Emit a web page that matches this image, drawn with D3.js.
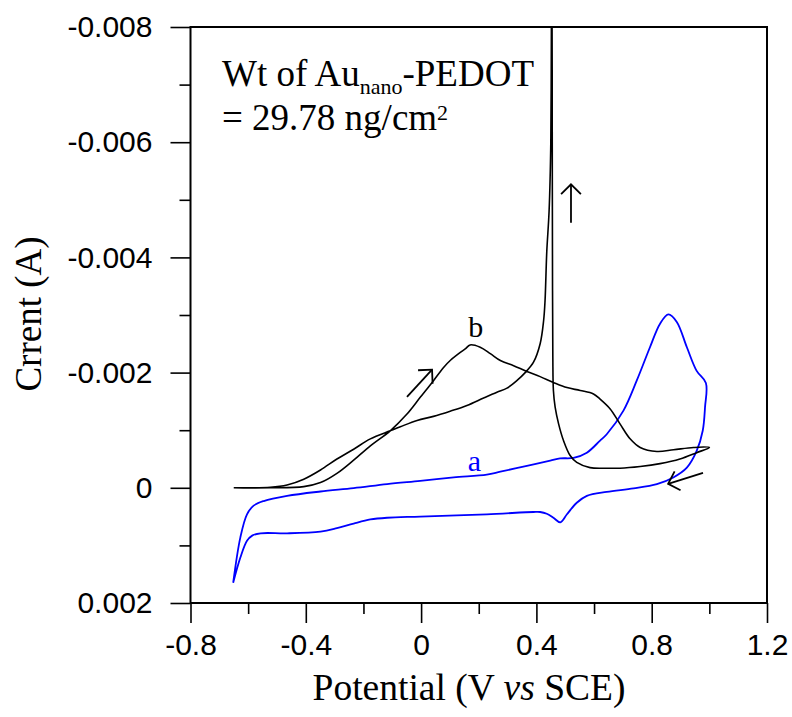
<!DOCTYPE html>
<html>
<head>
<meta charset="utf-8">
<script src="https://cdn.jsdelivr.net/npm/d3@7"></script>
<style>
  body { margin: 0; background: #fff; }
  svg { display: block; }
</style>
</head>
<body>
<div id="chart"></div>
<script>
// Curve b (black): forward scan, return scan, nucleation spike and back
const curveB_V = [-0.650, -0.523, -0.407, -0.349, -0.292, -0.234, -0.176, -0.107, -0.049, -0.003,
  0.043, 0.078, 0.101, 0.136, 0.153, 0.170, 0.205, 0.240, 0.275, 0.321, 0.367, 0.413, 0.459,
  0.506, 0.552, 0.598, 0.621, 0.656, 0.690, 0.725, 0.760, 0.818, 0.876, 0.945, 1.000,
  0.956, 0.898, 0.829, 0.760, 0.690, 0.644, 0.586, 0.540, 0.517, 0.494, 0.477, 0.465, 0.459,
  0.457, 0.456, 0.455, 0.454,
  0.452, 0.450, 0.444, 0.436, 0.430, 0.425, 0.413, 0.390, 0.361, 0.332, 0.298, 0.263, 0.217,
  0.159, 0.101, 0.043, -0.014, -0.072, -0.107, -0.176, -0.234, -0.292, -0.349, -0.407, -0.465,
  -0.523, -0.650];
const curveB_I = [0, 0, -0.00002, -0.00009, -0.00025, -0.00048, -0.00073, -0.00099, -0.00128, -0.00157,
  -0.00186, -0.00209, -0.00221, -0.00235, -0.00241, -0.00248, -0.00244, -0.00233, -0.00221, -0.00212, -0.00202, -0.00193, -0.00183,
  -0.00174, -0.00169, -0.00163, -0.00154, -0.00137, -0.00111, -0.00085, -0.00070, -0.00063, -0.00066, -0.00070, -0.00070,
  -0.00061, -0.00050, -0.00042, -0.00037, -0.00034, -0.00034, -0.00035, -0.00044, -0.00056, -0.00082, -0.00111, -0.00140, -0.00169,
  -0.00227, -0.00343, -0.00600, -0.00870,
  -0.00800, -0.00600, -0.00480, -0.00410, -0.00325, -0.00290, -0.00250, -0.00218, -0.00200, -0.00186, -0.00173, -0.00166, -0.00156,
  -0.00143, -0.00133, -0.00124, -0.00117, -0.00106, -0.00099, -0.00085, -0.00067, -0.00050, -0.00031, -0.00015, -0.00005,
  -0.00001, 0];

// Curve a (blue)
const curveA_V = [-0.652, -0.627, -0.604, -0.581, -0.546, -0.465, -0.349, -0.234, -0.118, -0.003,
  0.113, 0.228, 0.275, 0.367, 0.448, 0.482, 0.529, 0.575, 0.621, 0.644, 0.702, 0.748, 0.794,
  0.829, 0.858, 0.887, 0.922, 0.956, 0.988,
  0.985, 0.977, 0.956, 0.922, 0.875, 0.818, 0.737, 0.644, 0.575, 0.540, 0.506, 0.483, 0.459,
  0.436, 0.413, 0.390, 0.228, -0.003, -0.118, -0.176, -0.234, -0.292, -0.349, -0.465, -0.557,
  -0.586, -0.604, -0.627, -0.652];
const curveA_I = [0.00165, 0.00086, 0.00046, 0.00031, 0.00023, 0.00014, 0.000064, 0.000006, -0.000064, -0.00012,
  -0.00018, -0.00023, -0.00028, -0.00038, -0.00047, -0.00051, -0.00052, -0.00061, -0.00082, -0.00093, -0.00134, -0.00186, -0.00244,
  -0.00285, -0.00301, -0.00288, -0.00244, -0.00203, -0.00182,
  -0.00140, -0.00099, -0.00064, -0.00035, -0.00018, -0.000064, 0.00001, 0.00007, 0.00014, 0.00026, 0.00046, 0.00060, 0.00052,
  0.00045, 0.00042, 0.00042, 0.00046, 0.00050, 0.00052, 0.00055, 0.00062, 0.00070, 0.00076, 0.00079, 0.00079,
  0.00083, 0.00092, 0.00121, 0.00165];

const xTicks = [-0.8, -0.4, 0, 0.4, 0.8, 1.2];
const xMinor = [-0.6, -0.2, 0.2, 0.6, 1.0];
const yTicks = [-0.008, -0.006, -0.004, -0.002, 0, 0.002];
const yMinor = [-0.007, -0.005, -0.003, -0.001, 0.001];

// annotation arrows [from, to] in data units
const arrows = [
  [[-0.049, -0.00158], [0.038, -0.00205]],
  [[0.520, -0.00460], [0.520, -0.00527]],
  [[0.978, -0.00026], [0.857, -0.00007]]
];

const W = 792, H = 717;
const margin = { top: 27, right: 25, bottom: 114, left: 190.5 };
const width = W - margin.left - margin.right;
const height = H - margin.top - margin.bottom;

const svg = d3.select('#chart')
  .append('svg')
  .attr('width', W)
  .attr('height', H);

const g = svg.append('g')
  .attr('transform', `translate(${margin.left},${margin.top})`);

const x = d3.scaleLinear().domain([-0.8, 1.2]).range([0, width]);
const y = d3.scaleLinear().domain([-0.008, 0.002]).range([0, height]);

const fmt = d => String(d);

// axes
const xAxis = g.append('g')
  .attr('transform', `translate(0,${height})`)
  .call(d3.axisBottom(x).tickValues(xTicks).tickFormat(fmt).tickSize(20).tickPadding(6));
g.append('g')
  .attr('transform', `translate(0,${height})`)
  .call(d3.axisBottom(x).tickValues(xMinor).tickFormat('').tickSize(11));

const yAxis = g.append('g')
  .call(d3.axisLeft(y).tickValues(yTicks).tickFormat(fmt).tickSize(20).tickPadding(18));
g.append('g')
  .call(d3.axisLeft(y).tickValues(yMinor).tickFormat('').tickSize(11));

g.selectAll('.domain').remove();
g.selectAll('.tick line').attr('stroke', '#000').attr('stroke-width', 1.6);
g.selectAll('.tick text')
  .attr('fill', '#000')
  .style('font-family', '"Liberation Sans", Arial, sans-serif')
  .style('font-size', '30px');
xAxis.selectAll('.tick text').attr('dy', '0.88em');

// frame
g.append('rect')
  .attr('width', width)
  .attr('height', height)
  .attr('fill', 'none')
  .attr('stroke', '#000')
  .attr('stroke-width', 2);

// curves
g.append('clipPath').attr('id', 'clip')
  .append('rect').attr('width', width).attr('height', height);

const line = d3.line()
  .x(d => x(d[0]))
  .y(d => y(d[1]))
  .curve(d3.curveCatmullRom.alpha(0.5));

const dataB = curveB_V.map((v, i) => [v, curveB_I[i]]);
const dataA = curveA_V.map((v, i) => [v, curveA_I[i]]);

g.append('path')
  .datum(dataA)
  .attr('clip-path', 'url(#clip)')
  .attr('fill', 'none')
  .attr('stroke', '#0000ff')
  .attr('stroke-width', 1.8)
  .attr('d', line);

g.append('path')
  .datum(dataB)
  .attr('clip-path', 'url(#clip)')
  .attr('fill', 'none')
  .attr('stroke', '#000')
  .attr('stroke-width', 1.6)
  .attr('d', line);

// arrows with open heads
arrows.forEach(([a, b]) => {
  const x1 = x(a[0]), y1 = y(a[1]), x2 = x(b[0]), y2 = y(b[1]);
  const ang = Math.atan2(y2 - y1, x2 - x1);
  const hl = 14, spread = Math.PI / 4;
  g.append('line')
    .attr('x1', x1).attr('y1', y1).attr('x2', x2).attr('y2', y2)
    .attr('stroke', '#000').attr('stroke-width', 1.8);
  g.append('path')
    .attr('d', `M${x2 - hl * Math.cos(ang - spread)},${y2 - hl * Math.sin(ang - spread)}L${x2},${y2}L${x2 - hl * Math.cos(ang + spread)},${y2 - hl * Math.sin(ang + spread)}`)
    .attr('fill', 'none')
    .attr('stroke', '#000')
    .attr('stroke-width', 1.8);
});

const serif = '"Liberation Serif", "Times New Roman", serif';

// curve labels
g.append('text')
  .attr('x', x(0.19)).attr('y', y(-0.00261))
  .attr('text-anchor', 'middle')
  .style('font-family', serif).style('font-size', '30px')
  .text('b');
g.append('text')
  .attr('x', x(0.185)).attr('y', y(-0.00030))
  .attr('text-anchor', 'middle')
  .attr('fill', '#0000ff')
  .style('font-family', serif).style('font-size', '30px')
  .text('a');

// weight note
const note = g.append('text')
  .attr('x', 31.5).attr('y', 59)
  .style('font-family', serif).style('font-size', '37px');
note.append('tspan').text('Wt of Au');
note.append('tspan').attr('dy', 8).style('font-size', '22px').text('nano');
note.append('tspan').attr('dy', -8).text('-PEDOT');

const note2 = g.append('text')
  .attr('x', 31.5).attr('y', 103)
  .style('font-family', serif).style('font-size', '37px');
note2.append('tspan').text('= 29.78 ng/cm');
note2.append('tspan').attr('dy', -10).style('font-size', '22px').text('2');

// axis titles
svg.append('text')
  .attr('x', 469)
  .attr('y', 700)
  .attr('text-anchor', 'middle')
  .style('font-family', serif).style('font-size', '37.5px')
  .html('Potential (V <tspan font-style="italic">vs</tspan> SCE)');

svg.append('text')
  .attr('transform', 'translate(41,314) rotate(-90)')
  .attr('text-anchor', 'middle')
  .style('font-family', serif).style('font-size', '37px')
  .text('Crrent (A)');
</script>
</body>
</html>
